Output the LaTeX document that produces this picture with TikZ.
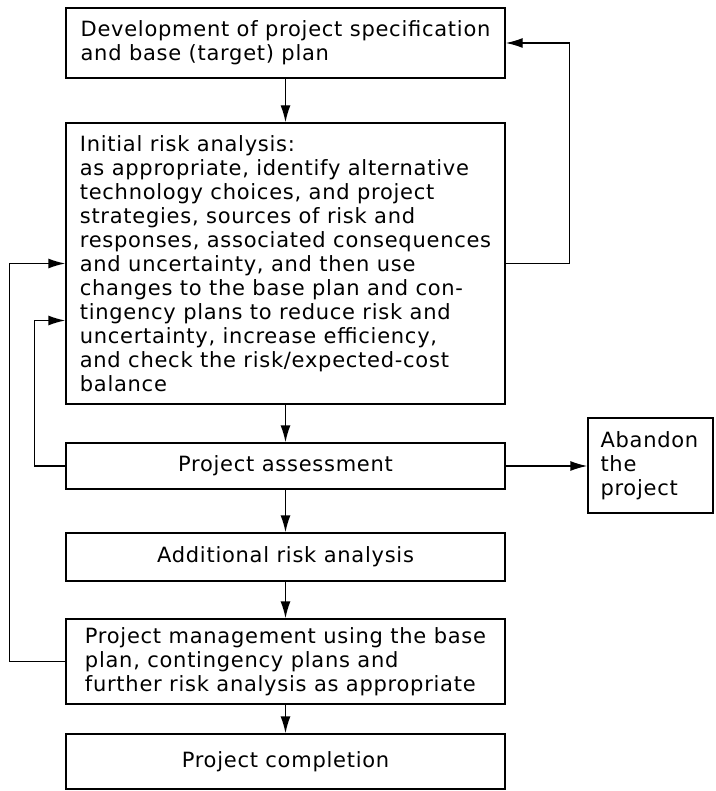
\documentclass[tikz,border=0pt]{standalone}
\usepackage{fontspec}
\setmainfont{DejaVu Sans}[LetterSpace=3.5]
\usetikzlibrary{arrows.meta}

\begin{document}
\begin{tikzpicture}[x=1pt, y=-1pt,
    box/.style={draw, line width=1.4pt, minimum width=439pt, align=left,
        font=\fontsize{21}{24}\selectfont},
    arr/.style={line width=1.4pt, -{Latex[length=17pt,width=10pt]}}]

    \useasboundingbox (0,0) rectangle (715,791);

    % I riquadri della colonna principale
    \node[box, minimum height=70pt] (dev) at (285.5,43)
        {Development of project specification\\and base (target) plan};
    \node[box, minimum height=281pt] (risk) at (285.5,263.5)
        {Initial risk analysis:\\as appropriate, identify alternative\\technology choices, and project\\strategies, sources of risk and\\responses, associated consequences\\and uncertainty, and then use\\changes to the base plan and con-\\tingency plans to reduce risk and\\uncertainty, increase efficiency,\\and check the risk/expected-cost\\balance};
    \node[box, minimum height=46pt] (assess) at (285.5,466) {Project assessment};
    \node[box, minimum height=48pt] (add) at (285.5,557) {Additional risk analysis};
    \node[box, minimum height=85pt] (mgmt) at (285.5,661.5)
        {Project management using the base\\plan, contingency plans and\\further risk analysis as appropriate};
    \node[box, minimum height=55pt] (compl) at (285.5,761.5) {Project completion};

    % Riquadro laterale
    \node[box, minimum width=125pt, minimum height=95pt, text width=100pt] (aband) at (650.5,465.5)
        {Abandon\\the\\project};

    % Frecce verso il basso
    \draw[arr] (dev) -- (risk);
    \draw[arr] (risk) -- (assess);
    \draw[arr] (assess) -- (add);
    \draw[arr] (add) -- (mgmt);
    \draw[arr] (mgmt) -- (compl);

    % Abbandono
    \draw[arr] (assess.east) -- (assess.east -| aband.west);

    % Cicli di ritorno
    \draw[arr] (risk.east) -- ++(64,0) |- (dev.east);
    \draw[arr] (mgmt.west) -- ++(-56,0) |- (risk.west);
    \draw[arr] (assess.west) -- ++(-31,0) |- ([yshift=-57pt]risk.west);

\end{tikzpicture}
\end{document}
